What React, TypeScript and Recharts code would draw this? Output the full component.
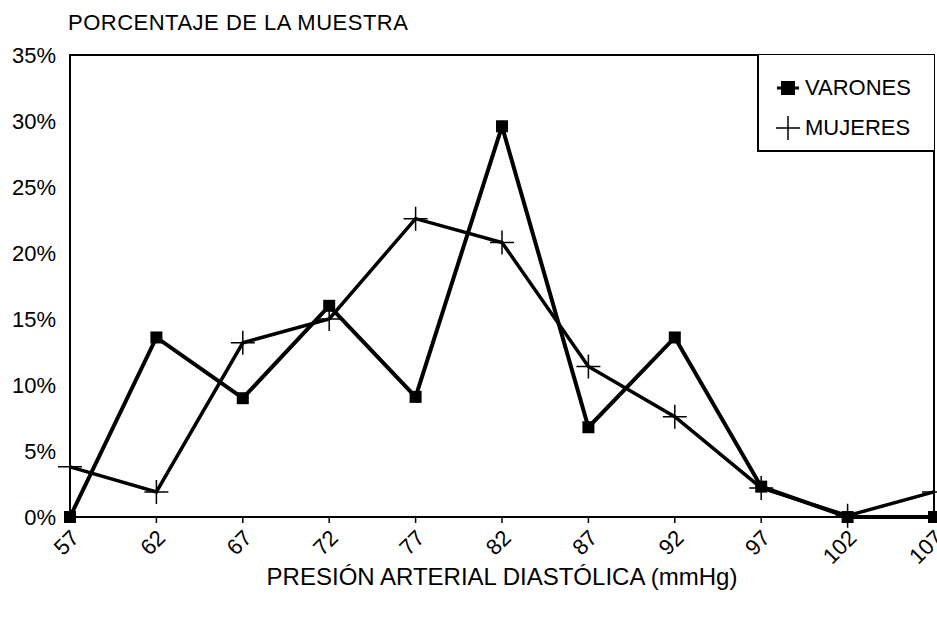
import React from 'react';
import {
  LineChart, Line, XAxis, YAxis, ReferenceArea,
} from 'recharts';

// ─── Datos: porcentaje de la muestra por presión diastólica ──────────────────
const PRESION  = ['57', '62', '67', '72', '77', '82', '87', '92', '97', '102', '107'];
const VARONES  = [0, 13.6, 9.0, 16.0, 9.1, 29.6, 6.8, 13.6, 2.3, 0, 0];
const MUJERES  = [3.8, 1.9, 13.2, 15.0, 22.6, 20.8, 11.4, 7.6, 2.2, 0.1, 1.9];
const Y_TICKS  = [0, 5, 10, 15, 20, 25, 30, 35];

const data = PRESION.map((p, i) => ({ p, varones: VARONES[i], mujeres: MUJERES[i] }));

const FONT = "'Liberation Sans', Arial, sans-serif";
const INK  = '#000';

const SquareDot = (props: any) => {
  const { cx, cy } = props;
  if (cx == null || cy == null) return null;
  return <rect x={cx - 6} y={cy - 6} width={12} height={12} fill={INK} />;
};

const PlusDot = (props: any) => {
  const { cx, cy } = props;
  if (cx == null || cy == null) return null;
  return (
    <path d={`M${cx - 12},${cy} H${cx + 12} M${cx},${cy - 12} V${cy + 12}`}
      stroke={INK} strokeWidth={1.5} fill="none" />
  );
};

const XTick = ({ x, y, payload }: any) => (
  <text x={x + 5} y={y + 9} transform={`rotate(-45 ${x + 5} ${y + 9})`}
    textAnchor="end" dominantBaseline="central"
    fontFamily={FONT} fontSize={22} fill={INK}>
    {payload.value}
  </text>
);

const LegendBox = () => (
  <div style={{
    position: 'absolute', left: 757, top: 55,
    boxSizing: 'border-box', width: 177, height: 97, background: 'white',
    borderLeft: '2px solid #000', borderBottom: '2px solid #000',
    fontFamily: FONT, fontSize: 22, color: INK, padding: '13px 0 0 16px',
  }}>
    <div style={{ display: 'flex', alignItems: 'center', height: 40 }}>
      <svg width={28} height={20} style={{ marginRight: 2 }}>
        <path d="M2,10 H24" stroke={INK} strokeWidth={3} />
        <rect x={6} y={3} width={14} height={14} fill={INK} />
      </svg>
      VARONES
    </div>
    <div style={{ display: 'flex', alignItems: 'center', height: 40 }}>
      <svg width={28} height={26} style={{ marginRight: 2 }}>
        <path d="M1,13 H25 M13,1 V25" stroke={INK} strokeWidth={1.5} />
      </svg>
      MUJERES
    </div>
  </div>
);

export default function App() {
  return (
    <div style={{ position: 'absolute', left: 0, top: 0, width: 937, height: 621, background: 'white' }}>
      <div style={{
        position: 'absolute', left: 68, top: 10, fontFamily: FONT, fontSize: 22,
        letterSpacing: 0.5, color: INK, whiteSpace: 'nowrap',
      }}>
        PORCENTAJE DE LA MUESTRA
      </div>
      <LineChart width={937} height={621} data={data}
        margin={{ top: 55, right: 3, left: 0, bottom: 0 }}>
        <ReferenceArea x1="57" x2="107" y1={0} y2={35} fill="none" stroke={INK} strokeWidth={2} />
        <XAxis dataKey="p" interval={0} height={104} tick={<XTick />}
          tickSize={6} tickLine={{ stroke: INK, strokeWidth: 1.5 }}
          axisLine={{ stroke: INK, strokeWidth: 2 }}
          label={{ value: 'PRESIÓN ARTERIAL DIASTÓLICA (mmHg)', position: 'insideBottom', offset: 36,
            style: { fontFamily: FONT, fontSize: 24, fill: INK } }} />
        <YAxis width={70} domain={[0, 35]} ticks={Y_TICKS} interval={0}
          tickFormatter={(v: number) => `${v}%`} tickLine={false} tickMargin={8}
          axisLine={{ stroke: INK, strokeWidth: 2 }}
          tick={{ fontFamily: FONT, fontSize: 22, fill: INK }} />
        <Line dataKey="mujeres" name="MUJERES" stroke={INK} strokeWidth={3.5}
          dot={<PlusDot />} isAnimationActive={false} />
        <Line dataKey="varones" name="VARONES" stroke={INK} strokeWidth={4}
          dot={<SquareDot />} isAnimationActive={false} />
      </LineChart>
      <LegendBox />
    </div>
  );
}
